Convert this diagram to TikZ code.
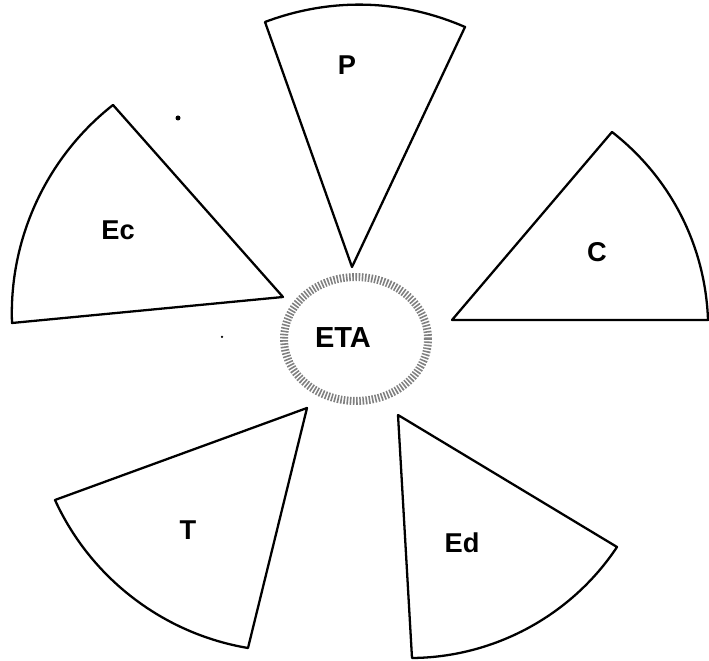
\documentclass[tikz,border=0pt]{standalone}
\usepackage{fontspec}
\setmainfont{Liberation Sans}
\usetikzlibrary{shapes.geometric}
\definecolor{RingGray}{rgb}{0.5, 0.5, 0.5}
\def\s{0.02}

\begin{document}
\begin{tikzpicture}[x=\s cm, y=\s cm,
    sector/.style={draw=black, line width=1.3pt, line join=round},
    lbl/.style={font=\bfseries\fontsize{15.5}{18}\selectfont, inner sep=0pt},
    etaring/.style={ellipse, draw=RingGray, line width=1.6mm, dash pattern=on 0.9pt off 0.9pt,
        minimum width=28.8mm, minimum height=24.8mm, inner sep=0pt}]

\useasboundingbox (0,0) rectangle (709,661);

% sectores
\foreach \n/\tx/\ty/\ax/\ay/\bx/\by/\b/\lx/\ly in {%
    P/352/394/465/634/265/639/22/347/596,
    Ec/283/364/113/556/12/338/27/118/431,
    C/452/341/708/341/612/529/25/597/409,
    T/307/253/55/161/248/13/28/188/131,
    Ed/398/246/412/3/617/114/28/462/118}{%
    \coordinate (\n-tip) at (\tx,\ty);
    \coordinate (\n-a) at (\ax,\ay);
    \coordinate (\n-b) at (\bx,\by);
    \draw[sector] (\n-tip) -- (\n-a) to[bend right=\b, looseness=0.9] (\n-b) -- cycle;
    \node[lbl] (lbl-\n) at (\lx,\ly) {\n};
}

% centro
\node[etaring] (eta) at (356,322) {};
\node[lbl, font=\bfseries\fontsize{16.5}{18}\selectfont] (lbl-eta) at (343,323) {ETA};

% puntos sueltos
\fill (178,543) circle [radius=0.5mm];
\fill (222,324) circle [radius=0.25mm];

\end{tikzpicture}
\end{document}
